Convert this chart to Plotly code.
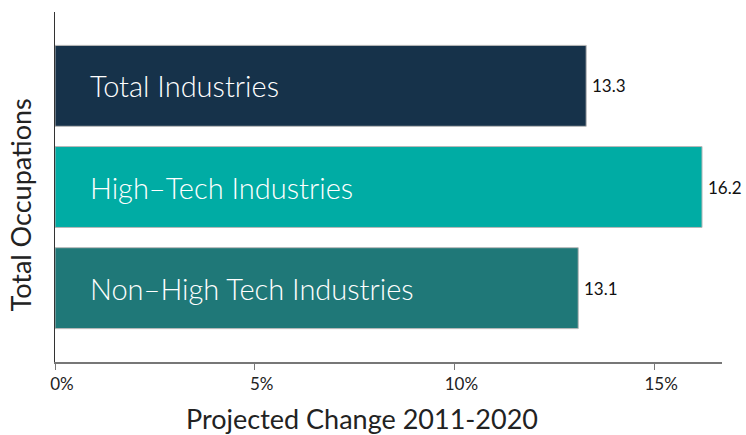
import plotly.graph_objects as go

# data
categories = ["Total Industries", "High\u2013Tech Industries", "Non\u2013High Tech Industries"]
values = [13.3, 16.2, 13.1]
value_labels = ["13.3", "16.2", "13.1"]
colors = ["#16324a", "#00aca4", "#1f7878"]
tick_vals = [0, 5, 10, 15]
tick_text = ["0%", "5%", "10%", "15%"]

font_family = "Lato, 'Open Sans', sans-serif"

fig = go.Figure()
fig.add_trace(go.Bar(
    x=values,
    y=categories,
    orientation="h",
    marker=dict(color=colors, line=dict(color="#b8b8b8", width=1)),
    width=0.8,
    hoverinfo="skip",
))

# category names inside the bars, values just past the bar ends
for cat, val, lab in zip(categories, values, value_labels):
    fig.add_annotation(
        x=0, y=cat, xref="x", yref="y",
        text=cat, showarrow=False,
        xanchor="left", xshift=33,
        font=dict(size=29, color="white", family=font_family, weight=300),
    )
    fig.add_annotation(
        x=val, y=cat, xref="x", yref="y",
        text=lab, showarrow=False,
        xanchor="left", xshift=4,
        font=dict(size=17, color="#111111", family=font_family),
    )

# axis titles
fig.add_annotation(
    x=0.5, y=0, xref="paper", yref="paper",
    text="Projected Change 2011-2020", showarrow=False,
    xanchor="center", yanchor="top", yshift=-38, xshift=-27,
    font=dict(size=27, color="#222222", family=font_family),
)
fig.add_annotation(
    x=0, y=0.5, xref="paper", yref="paper",
    text="Total Occupations", showarrow=False, textangle=-90,
    xanchor="right", yanchor="middle", xshift=-17, yshift=-18,
    font=dict(size=27, color="#222222", family=font_family),
)

fig.update_xaxes(
    range=[0, 16.7],
    tickvals=tick_vals, ticktext=tick_text,
    ticks="outside", ticklen=6, tickcolor="#777777", tickwidth=1,
    showline=True, linecolor="#777777", linewidth=2,
    showgrid=False, zeroline=False,
    tickfont=dict(size=17, color="#222222", family=font_family),
    ticklabelshift=7,
    automargin=False,
)
fig.update_yaxes(
    range=[2.73, -0.73],
    categoryorder="array", categoryarray=categories,
    showticklabels=False, ticks="",
    showline=True, linecolor="#333333", linewidth=1,
    showgrid=False, zeroline=False,
    automargin=False,
)

fig.update_layout(
    width=746, height=435,
    margin=dict(l=55, r=24, t=12, b=73),
    paper_bgcolor="white", plot_bgcolor="white",
    showlegend=False,
    bargap=0.2,
)

fig.write_html("out.html", config={"displayModeBar": False},
               post_script="document.body.style.margin='0';")
